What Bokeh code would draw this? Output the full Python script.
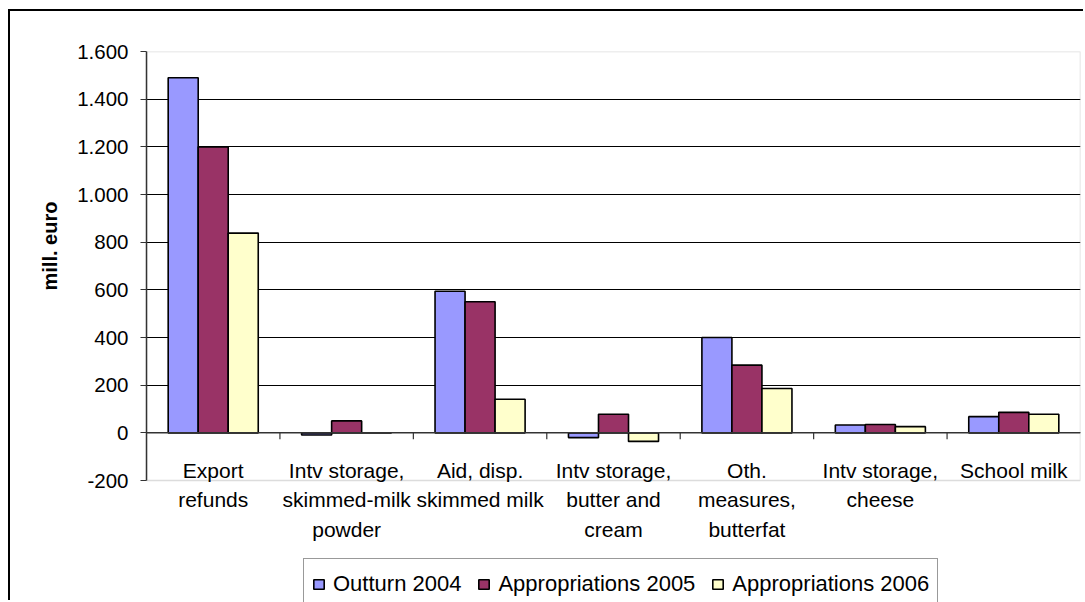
from bokeh.plotting import figure
from bokeh.models import (FactorRange, Range1d, FixedTicker, Legend, LegendItem,
                          ColumnDataSource, Span, BoxAnnotation, Title)
from bokeh.transform import dodge
from bokeh.core.properties import value
from bokeh.embed import file_html
from bokeh.resources import INLINE

# ---------------- data ----------------
categories = [
    "Export refunds",
    "Intv storage, skimmed-milk powder",
    "Aid, disp. skimmed milk",
    "Intv storage, butter and cream",
    "Oth. measures, butterfat",
    "Intv storage, cheese",
    "School milk",
]
category_labels = [
    "Export\nrefunds",
    "Intv storage,\nskimmed-milk\npowder",
    "Aid, disp.\nskimmed milk",
    "Intv storage,\nbutter and\ncream",
    "Oth.\nmeasures,\nbutterfat",
    "Intv storage,\ncheese",
    "School milk",
]
series_names = ["Outturn 2004", "Appropriations 2005", "Appropriations 2006"]
outturn_2004 = [1490, -9, 594, -20, 400, 33, 68]
appropriations_2005 = [1200, 50, 550, 78, 284, 35, 86]
appropriations_2006 = [838, 0, 141, -36, 186, 26, 78]
y_tick_values = [-200, 0, 200, 400, 600, 800, 1000, 1200, 1400, 1600]
y_tick_labels = ["-200", "0", "200", "400", "600", "800", "1.000", "1.200", "1.400", "1.600"]
y_axis_title = "mill. euro"

colors = ["#9999FF", "#993366", "#FFFFCC"]
FONT = "Liberation Sans"

# ---------------- geometry (pixels) ----------------
FRAME_TOP = 40        # from canvas top
PLOT_H = 429          # height of the -200..1600 plot area
FRAME_H = 551         # frame extends below the plot area to hold labels/legend
px_per_unit = PLOT_H / (y_tick_values[-1] - y_tick_values[0])
y_bottom = y_tick_values[0] - (FRAME_H - PLOT_H) / px_per_unit

source = ColumnDataSource(dict(
    cat=categories,
    s0=outturn_2004,
    s1=appropriations_2005,
    s2=appropriations_2006,
))

p = figure(
    x_range=FactorRange(*categories),
    y_range=Range1d(y_bottom, y_tick_values[-1]),
    width=1075, height=591,
    min_border_left=136, min_border_right=5, min_border_top=FRAME_TOP, min_border_bottom=0,
    output_backend="svg", toolbar_location=None,
    x_axis_location=None,
    background_fill_color="white", border_fill_color="white",
)
p.styles = {"margin-left": "8px", "margin-top": "9px",
            "border-left": "2px solid #000000", "border-top": "2px solid #000000"}
p.outline_line_color = None

# grid
p.xgrid.grid_line_color = None
p.ygrid.ticker = FixedTicker(ticks=y_tick_values[1:-1])
p.ygrid.grid_line_color = "#000000"
p.ygrid.grid_line_width = 1

# plot-area border (gray)
p.add_layout(BoxAnnotation(bottom=y_tick_values[0], top=y_tick_values[-1],
                           fill_alpha=0, line_color="#8c8c8c", line_width=1.5,
                           level="underlay"))

# bars
bw = 0.225
renderers = []
for i, (col, name) in enumerate(zip(["s0", "s1", "s2"], series_names)):
    r = p.vbar(x=dodge("cat", (i - 1) * bw, range=p.x_range), top=col, bottom=0,
               width=bw, source=source, fill_color=colors[i],
               line_color="#000000", line_width=1.6)
    renderers.append(r)

# zero axis line
p.add_layout(Span(location=0, dimension="width", line_color="#333333", line_width=1.5))

# category boundary tick marks on the zero axis
tick_src = ColumnDataSource(dict(cat=categories[1:]))
p.segment(x0=dodge("cat", -0.5, range=p.x_range), y0=0,
          x1=dodge("cat", -0.5, range=p.x_range), y1=-27,
          source=tick_src, line_color="#333333", line_width=1.2)

# category labels (multi-line), placed under the zero axis
split = [l.split("\n") for l in category_labels]
nlines = max(len(s) for s in split)
line_offsets = [37.5, 67, 96.5]
for k in range(nlines):
    p.text(x=categories, y=[0] * len(categories),
           text=[s[k] if k < len(s) else "" for s in split],
           y_offset=line_offsets[k],
           text_align="center", text_baseline="alphabetic",
           text_font=value(FONT), text_font_size="21px", text_color="#000000")

# y axis
yax = p.yaxis[0]
yax.bounds = (y_tick_values[0], y_tick_values[-1])
yax.ticker = FixedTicker(ticks=y_tick_values)
yax.major_label_overrides = {v: l for v, l in zip(y_tick_values, y_tick_labels)}
yax.minor_tick_line_color = None
yax.major_tick_in = 0
yax.major_tick_out = 6
yax.major_label_standoff = 12
yax.axis_line_color = "#333333"
yax.axis_line_width = 1.5
yax.major_tick_line_color = "#333333"
yax.major_tick_line_width = 1.2
yax.major_label_text_font = FONT
yax.major_label_text_font_size = "20.5px"
yax.major_label_text_color = "#000000"

# y axis title, centred on the -200..1600 plot area
p.add_layout(Title(text=y_axis_title, align="left", offset=312, standoff=28,
                   text_font=FONT, text_font_style="bold", text_font_size="20px",
                   text_color="#000000"), "left")

# legend
legend = Legend(
    items=[LegendItem(label=n, renderers=[r]) for n, r in zip(series_names, renderers)],
    location=(157, -8), orientation="horizontal",
    label_text_font=FONT, label_text_font_size="22px", label_text_color="#000000",
    glyph_width=13, glyph_height=12, label_standoff=8, spacing=16,
    padding=8, margin=0, label_height=34,
    border_line_color="#333333", border_line_width=1,
    background_fill_color="white", background_fill_alpha=1,
)
p.add_layout(legend, "center")

open("out.html", "w").write(file_html(p, INLINE))
